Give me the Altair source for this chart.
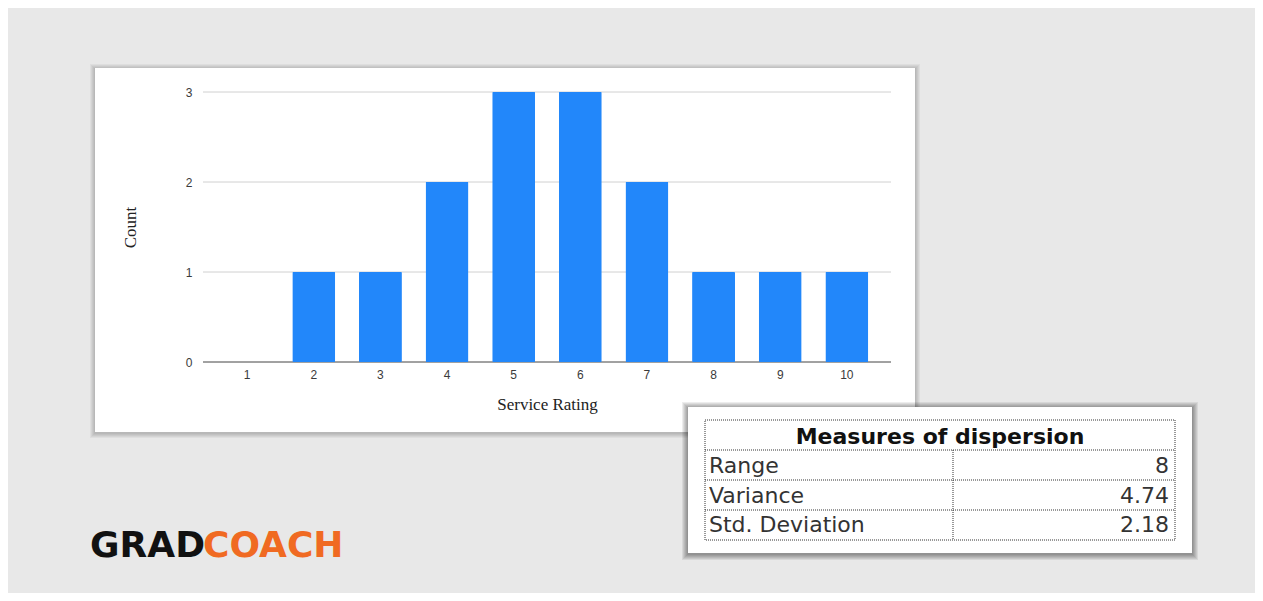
import altair as alt
import pandas as pd

# ---- data ----
ratings = [1, 2, 3, 4, 5, 6, 7, 8, 9, 10]
counts = [0, 1, 1, 2, 3, 3, 2, 1, 1, 1]
y_ticks = [0, 1, 2, 3]
x_title = "Service Rating"
y_title = "Count"
table_title = ["Measures of dispersion"]
measure_names = ["Range", "Variance", "Std. Deviation"]
measure_values = ["8", "4.74", "2.18"]
logo_left = ["GRAD"]
logo_right = ["COACH"]

bars_df = pd.DataFrame({"rating": ratings, "count": counts})
grid_df = pd.DataFrame({"tick": y_ticks})
table_df = pd.DataFrame({"name": measure_names, "value": measure_values})
one = pd.DataFrame({"k": [0]})

BAR = "#2287fa"
BG = "#e8e8e8"
ORANGE = "#f06a22"

yscale = alt.Scale(domain=[0, 3], nice=False)


def box(x, x2, y, y2, **kw):
    return alt.Chart(one).mark_rect(**kw).encode(
        x=alt.value(x), x2=alt.value(x2), y=alt.value(y), y2=alt.value(y2)
    )


def shadowed_card(x, x2, y, y2, depth, alpha):
    layers = []
    for i in range(depth, 0, -1):
        layers.append(box(x - i, x2 + i, y - i + 1, y2 + i + 1, fill="#000000", opacity=alpha))
    layers.append(box(x, x2, y, y2, fill="#ffffff"))
    return layers


def hline(x, x2, y):
    return alt.Chart(one).mark_rule(color="#333333", strokeDash=[1, 1], strokeWidth=1).encode(
        x=alt.value(x), x2=alt.value(x2), y=alt.value(y)
    )


def vline(x, y, y2):
    return alt.Chart(one).mark_rule(color="#333333", strokeDash=[1, 1], strokeWidth=1).encode(
        x=alt.value(x), y=alt.value(y), y2=alt.value(y2)
    )


layers = []
# chart card
layers += shadowed_card(-108, 712, -24, 340, 5, 0.045)

# grid lines
grid = alt.Chart(grid_df).mark_rule(strokeWidth=1).encode(
    y=alt.Y("tick:Q", scale=yscale, axis=None),
    color=alt.Color("tick:O", scale=alt.Scale(domain=y_ticks, range=["#444444", "#d0d0d0", "#d0d0d0", "#d0d0d0"]), legend=None),
)
layers.append(grid)

bars = alt.Chart(bars_df).mark_bar(color=BAR, cornerRadius=1).encode(
    x=alt.X(
        "rating:O",
        scale=alt.Scale(paddingInner=0.355, paddingOuter=0.34),
        axis=alt.Axis(
            title=x_title, labelAngle=0, domain=False, ticks=False, grid=False,
            labelPadding=7, labelFont="Liberation Sans", labelFontSize=12, labelColor="#3a3a3a",
            titleFont="Liberation Serif", titleFontSize=17, titleFontWeight="normal",
            titleColor="#222222", titlePadding=16, zindex=1,
        ),
    ),
    y=alt.Y(
        "count:Q",
        scale=yscale,
        axis=alt.Axis(
            title=y_title, values=y_ticks, format="d", domain=False, ticks=False, grid=False,
            labelPadding=11, labelFont="Liberation Sans", labelFontSize=12, labelColor="#3a3a3a",
            titleFont="Liberation Serif", titleFontSize=17, titleFontWeight="normal",
            titleColor="#222222", titlePadding=46, zindex=1,
        ),
    ),
)
layers.append(bars)

# table card
layers += shadowed_card(485, 989, 315, 461, 6, 0.07)
layers.append(box(502, 972, 328, 448, fill="#ffffff", stroke="#333333", strokeDash=[1, 1], strokeWidth=1))
for yy in [358, 388, 418]:
    layers.append(hline(502, 972, yy))
layers.append(vline(750, 358, 448))

header = alt.Chart(pd.DataFrame({"t": table_title})).mark_text(
    font="DejaVu Sans", fontSize=22, fontWeight="bold", color="#111111", align="center", baseline="middle"
).encode(x=alt.value(737), y=alt.value(345), text="t:N")
layers.append(header)

row_y = alt.Y("name:N", sort=measure_names, scale=alt.Scale(range=[374, 433], padding=0), axis=None)
names = alt.Chart(table_df).mark_text(
    font="DejaVu Sans", fontSize=22, color="#333333", align="left", baseline="middle"
).encode(x=alt.value(506), y=row_y, text="name:N")
vals = alt.Chart(table_df).mark_text(
    font="DejaVu Sans", fontSize=22, color="#333333", align="right", baseline="middle"
).encode(x=alt.value(966), y=row_y, text="value:N")
layers += [names, vals]

# logo
logo1 = alt.Chart(pd.DataFrame({"t": logo_left})).mark_text(
    font="DejaVu Sans", fontSize=36, fontWeight="bold", color="#111111", align="left", baseline="alphabetic"
).encode(x=alt.value(-113), y=alt.value(465), text="t:N")
logo2 = alt.Chart(pd.DataFrame({"t": logo_right})).mark_text(
    font="DejaVu Sans", fontSize=36, fontWeight="bold", color=ORANGE, align="left", baseline="alphabetic"
).encode(x=alt.value(0), y=alt.value(465), text="t:N")
layers += [logo1, logo2]

chart = alt.layer(*layers).resolve_scale(y="independent").properties(
    width=688,
    height=270,
    autosize=alt.AutoSizeParams(type="none"),
    padding={"left": 195, "top": 84, "right": 364, "bottom": 231},
    background=BG,
).configure_view(stroke=None)

chart.save("out.html", embed_options={"renderer": "svg", "actions": False})
